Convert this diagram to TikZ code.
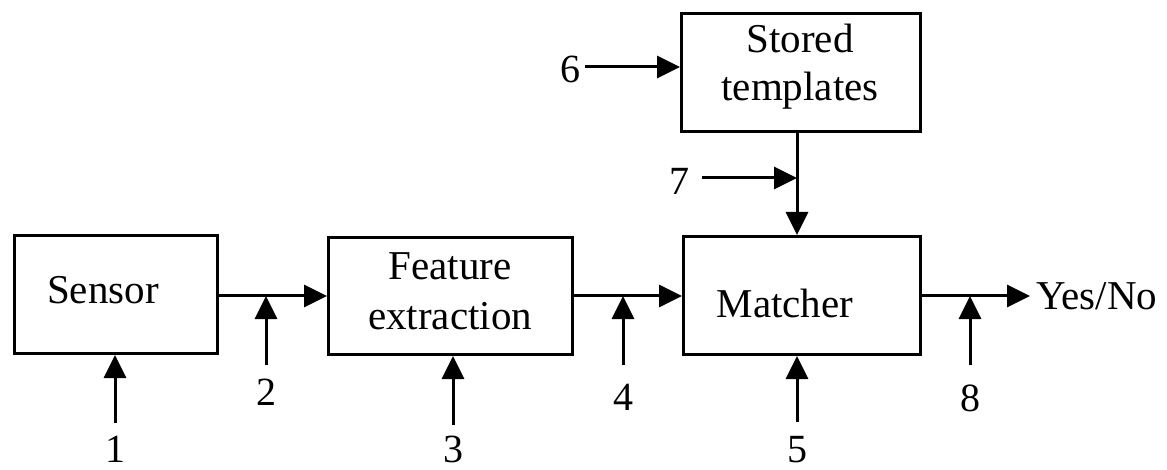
\documentclass[tikz,border=0pt]{standalone}
\usepackage{fontspec}
\setmainfont{Liberation Serif}
\usetikzlibrary{arrows.meta}
\begin{document}
\begin{tikzpicture}[x=1pt,y=-1pt,
  blk/.style={draw, line width=3pt, inner sep=0pt},
  txt/.style={font=\fontsize{41}{50}\selectfont, align=center, inner sep=0pt},
  num/.style={font=\fontsize{40}{46}\selectfont, inner sep=0pt},
  flow/.style={line width=3pt, -{Triangle[length=23pt,width=22pt]}}]
\useasboundingbox (0,0) rectangle (1167,470);

% blocks
\node[blk, minimum width=203pt, minimum height=118pt] (sensor)  at (116,294.5) {};
\node[blk, minimum width=244pt, minimum height=117pt] (feat)    at (450.5,296) {};
\node[blk, minimum width=237pt, minimum height=118pt] (matcher) at (802,295.5) {};
\node[blk, minimum width=239pt, minimum height=118pt] (stored)  at (801,72.5) {};

% block texts
\node[txt, anchor=base]  (tsensor)  at (103,303) {Sensor};
\node[txt, anchor=north] (tfeat)    at (450,252) {Feature\\extraction};
\node[txt, anchor=base]  (tmatcher) at (785,317) {Matcher};
\node[txt, anchor=north, font=\fontsize{41}{48}\selectfont] (tstored) at (800,24) {Stored\\templates};
\node[txt, anchor=base west] (yn) at (1036,309) {Yes/No};

% junctions on the main flow
\coordinate (j2) at (266,296);
\coordinate (j4) at (623,296);
\coordinate (j8) at (970,296);
\coordinate (j7) at (797,178);
\coordinate (out) at (1030,296);

% main flow
\draw[flow] (sensor.east |- j2) -- (feat.west |- j2);
\draw[flow] (feat.east |- j4) -- (matcher.west |- j4);
\draw[flow] (matcher.east |- j8) -- (out);
\draw[flow] (stored.south -| j7) -- (matcher.north -| j7);

% numbered attack points
\node[num, anchor=base] (n1) at (115,462) {1};
\node[num, anchor=base] (n2) at (266,405) {2};
\node[num, anchor=base] (n3) at (453,462) {3};
\node[num, anchor=base] (n4) at (623,410) {4};
\node[num, anchor=base] (n5) at (797,462) {5};
\node[num, anchor=base] (n6) at (570,83)  {6};
\node[num, anchor=base] (n7) at (679,195) {7};
\node[num, anchor=base] (n8) at (970,411) {8};

\coordinate (s1) at (115,423);
\coordinate (s2) at (266,365);
\coordinate (s3) at (453,425);
\coordinate (s4) at (623,365);
\coordinate (s5) at (797,422);
\coordinate (s6) at (585,67);
\coordinate (s7) at (702,178);
\coordinate (s8) at (970,365);

\draw[flow] (s1) -- (sensor.south -| s1);
\draw[flow] (s2) -- (j2);
\draw[flow] (s3) -- (feat.south -| s3);
\draw[flow] (s4) -- (j4);
\draw[flow] (s5) -- (matcher.south -| s5);
\draw[flow] (s6) -- (stored.west |- s6);
\draw[flow] (s7) -- (j7);
\draw[flow] (s8) -- (j8);
\end{tikzpicture}
\end{document}
